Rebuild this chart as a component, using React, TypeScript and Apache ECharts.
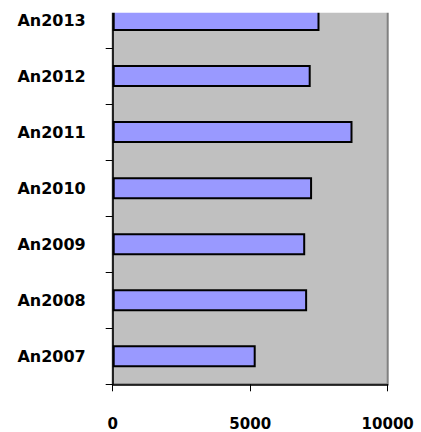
import React, { useEffect, useRef } from "react";
import * as echarts from "echarts";

const categories = ["An2007", "An2008", "An2009", "An2010", "An2011", "An2012", "An2013"];
const values = [5200, 7070, 7000, 7250, 8720, 7200, 7520];
const xTicks = [0, 5000, 10000];

const SHIFT = 7.7;

export default function App() {
  const ref = useRef<HTMLDivElement>(null);
  useEffect(() => {
    if (!ref.current) return;
    const chart = echarts.init(ref.current, null, { renderer: "svg" });
    chart.setOption({
      animation: false,
      grid: {
        left: 112.7,
        right: 33.3,
        top: 0,
        bottom: 47.7,
        show: true,
        backgroundColor: "#c0c0c0",
        borderColor: "#808080",
        borderWidth: 2,
      },
      xAxis: {
        type: "value",
        min: xTicks[0],
        max: xTicks[xTicks.length - 1],
        interval: 5000,
        splitLine: { show: false },
        axisLine: { show: true, lineStyle: { color: "#000", width: 1.5 } },
        axisTick: { show: true, length: 7, lineStyle: { color: "#000" } },
        axisLabel: {
          margin: 32,
          color: "#000",
          fontFamily: "DejaVu Sans",
          fontWeight: "bold",
          fontSize: 15,
          formatter: (v: number) => String(v),
        },
      },
      yAxis: {
        type: "category",
        data: categories,
        axisLine: { show: true, lineStyle: { color: "#000", width: 1.5 } },
        axisTick: { show: true, length: 7, lineStyle: { color: "#000" } },
        axisLabel: {
          margin: 27,
          color: "#000",
          fontFamily: "DejaVu Sans",
          fontWeight: "bold",
          fontSize: 16,
        },
      },
      series: [
        {
          type: "bar",
          data: values,
          barWidth: 22,
          itemStyle: { color: "#9999ff", borderColor: "#000", borderWidth: 2 },
        },
      ],
      graphic: [
        {
          type: "rect",
          left: 0,
          top: 0,
          z: 100,
          shape: { x: 0, y: 0, width: 421, height: 13 + SHIFT },
          style: { fill: "#fff" },
        },
      ],
    });
    return () => chart.dispose();
  }, []);
  return (
    <div
      ref={ref}
      style={{ width: 421, height: 432 + SHIFT, position: "absolute", left: 0, top: -SHIFT }}
    />
  );
}
